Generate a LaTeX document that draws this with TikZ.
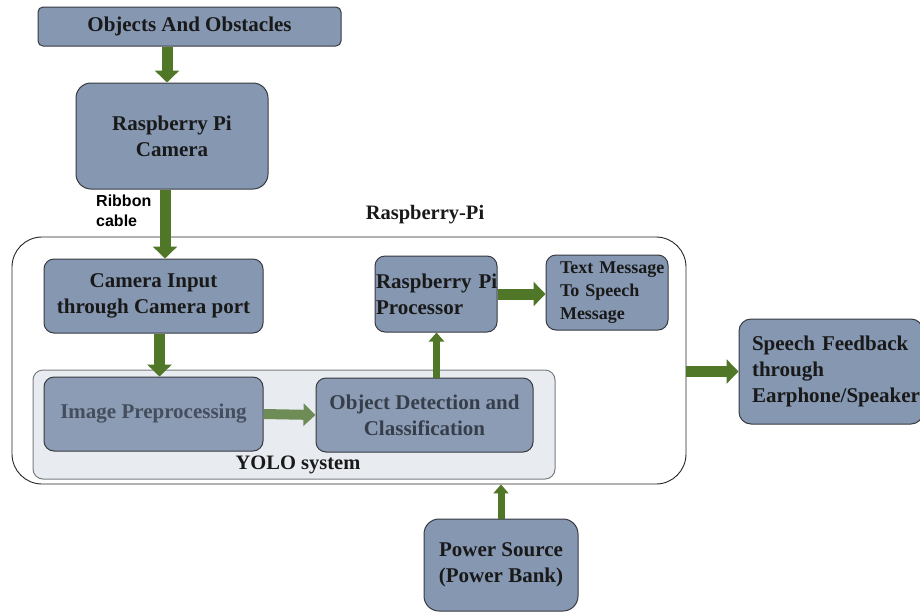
\documentclass[tikz,border=0pt]{standalone}
\usepackage{fontspec}
\setmainfont{Liberation Serif}
\setsansfont{Liberation Sans}
\usetikzlibrary{arrows.meta}
\definecolor{boxfill}{RGB}{133,151,177}
\definecolor{boxfade}{RGB}{140,156,180}
\definecolor{boxline}{RGB}{55,58,64}
\definecolor{arrgreen}{RGB}{80,118,40}
\definecolor{arrfade}{RGB}{110,140,85}
\definecolor{yolofill}{RGB}{232,235,240}
\definecolor{yololine}{RGB}{120,125,130}
\definecolor{fadetext}{RGB}{68,78,94}
\tikzset{
  box/.style={draw=boxline, line width=1pt, fill=boxfill, rounded corners=10pt, inner sep=0pt,
    font=\fontsize{21}{26}\selectfont\bfseries, text=black!90, align=center},
  fbox/.style={box, fill=boxfade, text=fadetext},
  garrow/.style={draw=arrgreen, line width=11pt, -{Triangle[length=12pt,width=24pt]}},
  garrowthin/.style={draw=arrgreen, line width=7pt, -{Triangle[length=9pt,width=15pt]}},
  farrow/.style={draw=arrfade, line width=10pt, -{Triangle[length=12pt,width=22pt]}},
  lbl/.style={font=\fontsize{20.5}{24}\selectfont\bfseries, text=black!90}
}
\begin{document}
\begin{tikzpicture}[x=1pt,y=-1pt]
\useasboundingbox (0,0) rectangle (920,611);
\clip (0,0) rectangle (920,611);
% containers
\node[draw=black!85, line width=0.9pt, fill=white, rounded corners=30pt, minimum width=674pt, minimum height=247pt, inner sep=0pt] (rpi) at (349,360.5) {};
\node[draw=yololine, line width=1pt, fill=yolofill, rounded corners=10pt, minimum width=522pt, minimum height=109pt, inner sep=0pt] (yolo) at (294,424.5) {};
% labels
\node[lbl] (rpilbl) at (425,215) {Raspberry-Pi};
\node[lbl] (yololbl) at (298,465) {YOLO system};
\node[font=\fontsize{16}{18}\selectfont\sffamily\bfseries, align=left, anchor=north west, inner sep=0pt] (ribbon) at (96,195) {Ribbon\\[2pt]cable};
% boxes
\node[box, rounded corners=5pt, minimum width=303pt, minimum height=39pt] (obj) at (189.5,26.5) {Objects And Obstacles};
\node[box, rounded corners=15pt, minimum width=192pt, minimum height=106pt] (cam) at (172,136) {Raspberry Pi\\Camera};
\node[box, minimum width=219pt, minimum height=74pt] (cin) at (153.5,296) {Camera Input\\through Camera port};
\node[fbox, minimum width=219pt, minimum height=74pt] (pre) at (153.5,414) {Image Preprocessing};
\node[fbox, minimum width=217pt, minimum height=74pt, text=fadetext!80!black] (det) at (424.5,415) {Object Detection and\\Classification};
\node[box, minimum width=122pt, minimum height=76pt, align=left, text width=120pt] (proc) at (436,294) {\mbox{Raspberry Pi}\\\mbox{Processor}};
\node[box, minimum width=122pt, minimum height=75pt, align=left, text width=94pt, font=\fontsize{18}{23}\selectfont\bfseries] (tts) at (607,292.5) {\mbox{Text Message}\\\mbox{To Speech}\\\mbox{Message}};
\node[box, rounded corners=12pt, minimum width=184pt, minimum height=105pt, align=left, text width=158pt] (spk) at (831,371.5) {\mbox{Speech Feedback}\\\mbox{through}\\\mbox{Earphone/Speaker}};
\node[box, rounded corners=15pt, minimum width=154pt, minimum height=92pt] (pwr) at (501,565) {Power Source\\(Power Bank)};
% arrows
\draw[garrow] (obj.south -| cam.north) ++(-5,0) coordinate (a1) -- (a1 |- cam.north);
\draw[garrow] (cam.south) ++(-7,0) coordinate (a2) -- (a2 |- cin.north);
\draw[garrow] (cin.south) ++(6,0) coordinate (a3) -- (a3 |- pre.north);
\draw[farrow] (pre.east) -- (det.west);
\draw[garrowthin] (det.north) ++(12,0) coordinate (a4) -- (a4 |- proc.south);
\draw[garrow] (proc.east) -- (tts.west |- proc.east);
\draw[garrow] (rpi.east |- spk.west) -- (spk.west);
\draw[garrowthin] (pwr.north) -- (pwr.north |- rpi.south);
\end{tikzpicture}
\end{document}
